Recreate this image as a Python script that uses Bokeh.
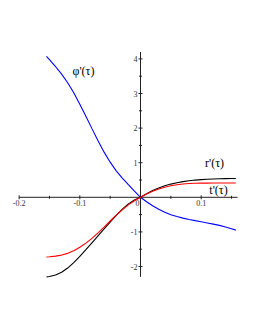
from bokeh.plotting import figure
from bokeh.models import Range1d
from bokeh.core.properties import value
from bokeh.embed import file_html
from bokeh.resources import INLINE

# ---- data ----
tau = [-0.155, -0.15, -0.14, -0.13, -0.12, -0.11, -0.10, -0.09, -0.08, -0.07, -0.06, -0.05,
       -0.04, -0.03, -0.02, -0.01, 0.0, 0.01, 0.02, 0.03, 0.04, 0.05, 0.06, 0.07, 0.08,
       0.09, 0.10, 0.11, 0.12, 0.13, 0.14, 0.15, 0.157]
phi_p = [4.075, 3.98, 3.78, 3.56, 3.31, 3.02, 2.69, 2.34, 1.985, 1.635, 1.305, 1.015,
         0.765, 0.555, 0.365, 0.18, 0.0, -0.13, -0.245, -0.345, -0.43, -0.502, -0.557, -0.602, -0.640,
         -0.675, -0.708, -0.741, -0.775, -0.811, -0.856, -0.908, -0.948]
r_p = [-2.305, -2.29, -2.245, -2.165, -2.045, -1.89, -1.71, -1.515, -1.315, -1.115, -0.915, -0.715,
       -0.52, -0.34, -0.19, -0.08, 0.0, 0.105, 0.195, 0.27, 0.332, 0.382, 0.422, 0.454, 0.479,
       0.498, 0.512, 0.522, 0.53, 0.536, 0.54, 0.543, 0.545]
t_p = [-1.725, -1.72, -1.70, -1.67, -1.62, -1.545, -1.445, -1.325, -1.185, -1.03, -0.86, -0.685,
       -0.515, -0.36, -0.22, -0.10, 0.0, 0.095, 0.175, 0.24, 0.292, 0.332, 0.362, 0.383, 0.397,
       0.405, 0.409, 0.411, 0.412, 0.412, 0.412, 0.412, 0.412]

x_major = [-0.2, -0.1, 0.1]
x_major_labels = ["-0.2", "-0.1", "0.1"]
x_minor = [-0.15, -0.05, 0.05, 0.15]
y_major = [-2, -1, 1, 2, 3, 4]
y_major_labels = ["-2", "-1", "1", "2", "3", "4"]
y_minor = [-1.5, -0.5, 0.5, 1.5, 2.5, 3.5]
x_axis_span = [-0.2, 0.16]
y_axis_span = [-2.3, 4.2]

curve_labels = ["φ'(τ)", "r'(τ)", "t'(τ)"]
curve_label_x = [-0.094, 0.122, 0.1285]
curve_label_y = [3.64, 0.98, 0.20]

# ---- figure ----
W, H = 239, 314
X0, X1 = -0.2307, 0.1631
Y0, Y1 = -3.387, 5.688
p = figure(width=W, height=H, output_backend="svg", toolbar_location=None,
           x_range=Range1d(X0, X1), y_range=Range1d(Y0, Y1),
           x_axis_type=None, y_axis_type=None, min_border=0)
p.outline_line_color = None
p.grid.visible = False
p.background_fill_color = "white"
p.border_fill_color = "white"

# pixel -> data scale for tick lengths
px_x = (X1 - X0) / W
px_y = (Y1 - Y0) / H

axis_col = "#222222"
p.line(x_axis_span, [0, 0], line_color=axis_col, line_width=1)
p.line([0, 0], y_axis_span, line_color=axis_col, line_width=1)

p.segment(x0=x_major, y0=[-2 * px_y] * len(x_major), x1=x_major, y1=[2 * px_y] * len(x_major),
          line_color=axis_col, line_width=1)
p.segment(x0=x_minor, y0=[-1.5 * px_y] * len(x_minor), x1=x_minor, y1=[1.5 * px_y] * len(x_minor),
          line_color=axis_col, line_width=1)
p.segment(x0=[-2 * px_x] * len(y_major), y0=y_major, x1=[2 * px_x] * len(y_major), y1=y_major,
          line_color=axis_col, line_width=1)
p.segment(x0=[-1.5 * px_x] * len(y_minor), y0=y_minor, x1=[1.5 * px_x] * len(y_minor), y1=y_minor,
          line_color=axis_col, line_width=1)

tick_font = value("Liberation Serif")
p.text(x=x_major, y=[0] * len(x_major), text=x_major_labels, text_font=tick_font,
       text_font_size="8px", text_align="center", text_baseline="top", y_offset=3,
       text_color="#333333")
p.text(x=[0], y=[0], text=["0"], text_font=tick_font, text_font_size="8px",
       text_align="center", text_baseline="top", y_offset=3, x_offset=-3, text_color="#333333")
p.text(x=[0] * len(y_major), y=y_major, text=y_major_labels, text_font=tick_font,
       text_font_size="8px", text_align="right", text_baseline="middle", x_offset=-3,
       text_color="#333333")

p.line(tau, phi_p, line_color="#0000ff", line_width=1.1)
p.line(tau, r_p, line_color="#000000", line_width=1.1)
p.line(tau, t_p, line_color="#ff0000", line_width=1.1)

p.text(x=curve_label_x, y=curve_label_y, text=curve_labels, text_font=value("Liberation Serif"),
       text_font_size="12px", text_align="center", text_baseline="middle", text_color="black")

open("out.html", "w").write(file_html(p, INLINE))
